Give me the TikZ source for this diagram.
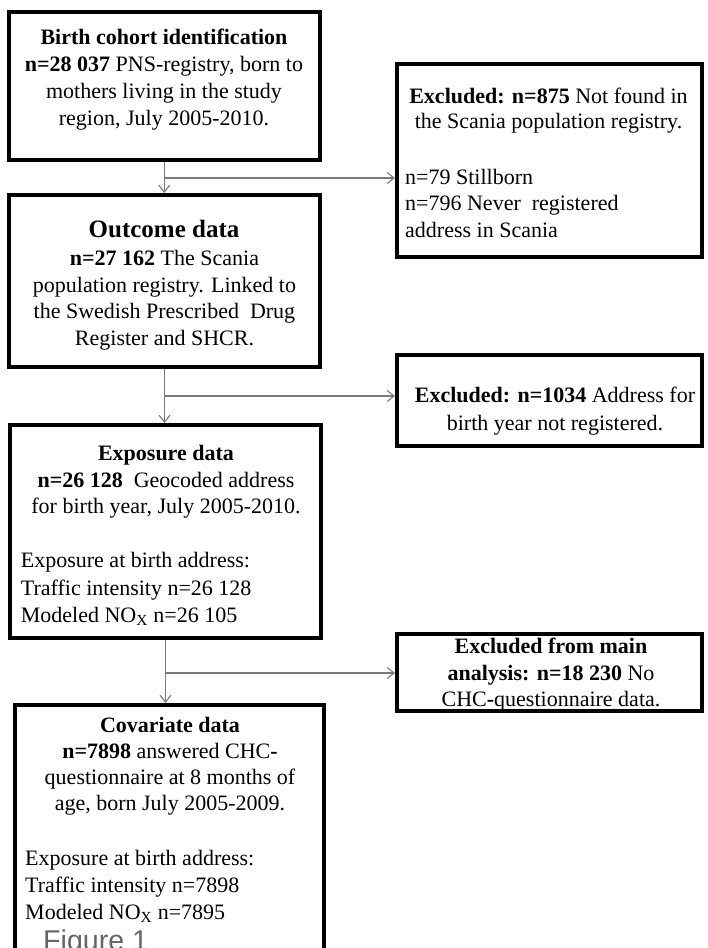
\documentclass[tikz,border=0pt]{standalone}
\usepackage{fontspec}
\setmainfont{Liberation Serif}
\newfontfamily\figfont{Liberation Sans}
\usetikzlibrary{arrows.meta}
\begin{document}
\begin{tikzpicture}[x=1pt,y=-1pt,
  box/.style={draw=black,line width=4pt,rectangle,inner sep=0pt},
  conn/.style={draw=black!52,line width=1.1pt,-{Straight Barb[length=7pt,width=11pt,line width=1.1pt]}},
  txt/.style={inner sep=0pt,anchor=base,align=center,font=\fontsize{22}{27}\selectfont},
  ltxt/.style={txt,anchor=base west,align=left}]
\useasboundingbox (0,0) rectangle (707,948);
\fill[white] (0,0) rectangle (707,948);
\clip (0,0) rectangle (707,948);

% boxes
\node[box,minimum width=311.5pt,minimum height=148pt] (b1) at (164.25,86) {};
\node[box,minimum width=311pt,minimum height=172pt] (b2) at (164.5,281) {};
\node[box,minimum width=305pt,minimum height=193pt] (x1) at (549.5,160.5) {};
\node[box,minimum width=305pt,minimum height=91pt] (x2) at (549.5,400.5) {};
\node[box,minimum width=311pt,minimum height=213pt] (b3) at (165.5,531.5) {};
\node[box,minimum width=305pt,minimum height=77pt] (x3) at (549.5,672.5) {};
\node[box,minimum width=309pt,minimum height=275pt] (b4) at (169.5,842.5) {};

% texts (anchor base = baseline of the last line)
\node[txt,font=\fontsize{22}{27.1}\selectfont] (t1) at (164,125.5) {\textbf{Birth cohort identification}\\\textbf{n=28 037} PNS-registry, born to\\mothers living in the study\\region, July 2005-2010.};
\node[txt,font=\fontsize{25}{27}\selectfont\bfseries] (t2a) at (164,237.6) {Outcome data};
\node[txt,font=\fontsize{22}{26.5}\selectfont] (t2b) at (164.5,345.3) {\textbf{n=27 162} The Scania\\population registry. Linked to\\the Swedish Prescribed~ Drug\\Register and SHCR.};
\node[txt,font=\fontsize{22}{25}\selectfont] (tx1a) at (548.5,128.5) {\textbf{Excluded: n=875} Not found in\\the Scania population registry.};
\node[ltxt,font=\fontsize{22}{26.7}\selectfont] (tx1b) at (405,237.6) {n=79 Stillborn\\n=796 Never~ registered\\address in Scania};
\node[txt,font=\fontsize{22}{28}\selectfont] (tx2) at (555,430.5) {\textbf{Excluded: n=1034} Address for\\birth year not registered.};
\node[txt,font=\fontsize{22}{26.5}\selectfont] (t3a) at (166,513.5) {\textbf{Exposure data}\\\textbf{n=26 128}~ Geocoded address\\for birth year, July 2005-2010.};
\node[ltxt,font=\fontsize{22}{27.5}\selectfont] (t3b) at (20.7,622.5) {Exposure at birth address:\\Traffic intensity n=26 128\\Modeled NO\textsubscript{X} n=26 105};
\node[txt,font=\fontsize{22}{26.3}\selectfont] (tx3) at (551,706.5) {\textbf{Excluded from main}\\\textbf{analysis: n=18 230} No\\CHC\textbf{-}questionnaire data.};
\node[txt,font=\fontsize{22}{26}\selectfont] (t4a) at (170,810.5) {\textbf{Covariate data}\\\textbf{n=7898} answered CHC\textbf{-}\\questionnaire at 8 months of\\age, born July 2005-2009.};
\node[ltxt,font=\fontsize{22}{27}\selectfont] (t4b) at (25,919.5) {Exposure at birth address:\\Traffic intensity n=7898\\Modeled NO\textsubscript{X} n=7895};
\node[inner sep=0pt,anchor=base west,text=black!60,font=\figfont\fontsize{28.6}{30}\selectfont] (fig) at (43,950) {Figure 1};

% connectors
\coordinate (y1) at (0,178);
\coordinate (y2) at (0,396);
\coordinate (y3) at (0,673);
\coordinate (j1) at (b1.south |- y1);
\coordinate (j2) at (b2.south |- y2);
\coordinate (j3) at (b3.south |- y3);
\draw[conn] (b1.south) -- (b1.south |- b2.north);
\draw[conn] (j1) -- (j1 -| x1.west);
\draw[conn] (b2.south) -- (b2.south |- b3.north);
\draw[conn] (j2) -- (j2 -| x2.west);
\draw[conn] (b3.south) -- (b3.south |- b4.north);
\draw[conn] (j3) -- (j3 -| x3.west);
\end{tikzpicture}
\end{document}
